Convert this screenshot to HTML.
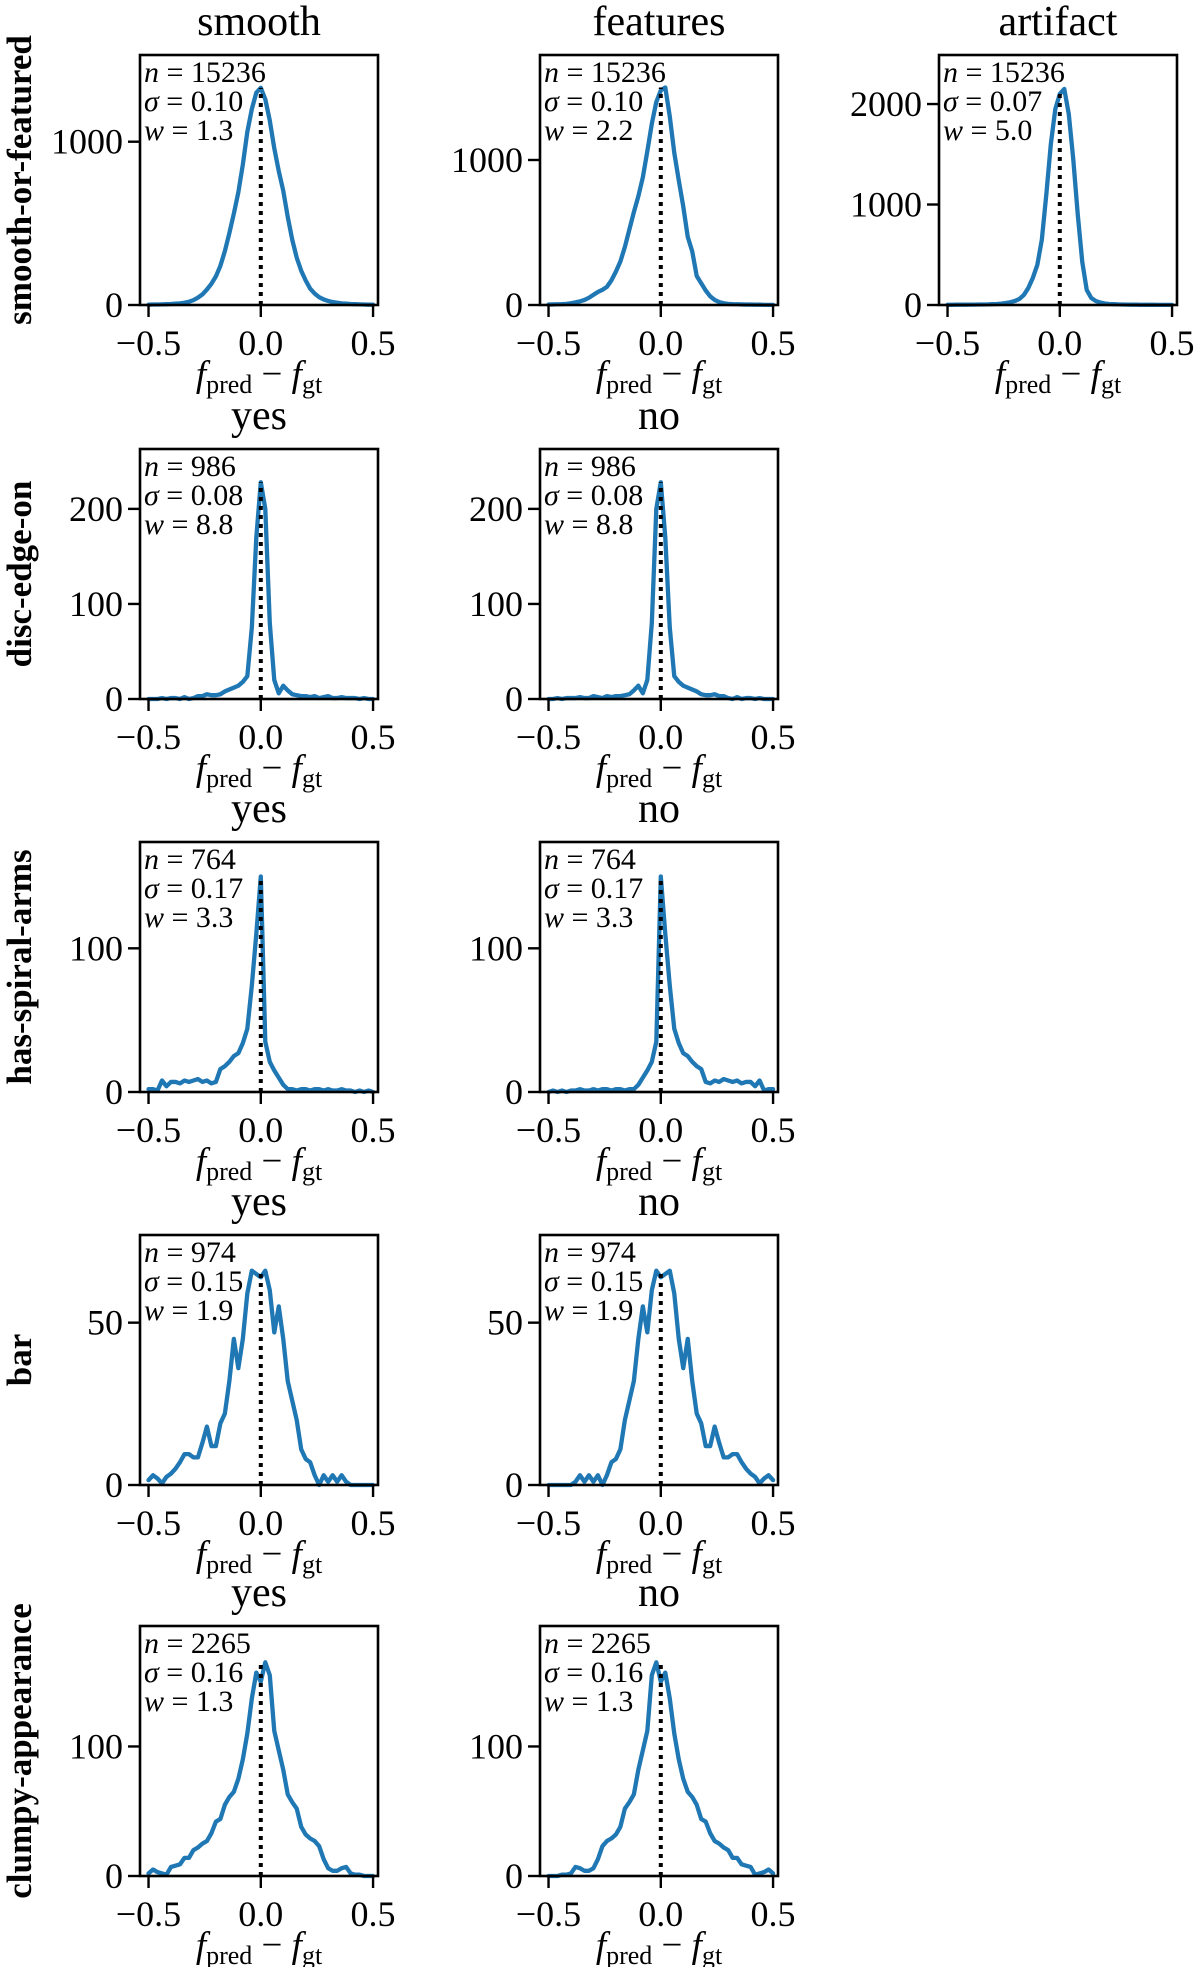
<!DOCTYPE html>
<html><head><meta charset="utf-8">
<style>
html,body{margin:0;padding:0;background:#fff;}
svg{display:block;font-family:"Liberation Serif","DejaVu Serif",serif;}
</style></head>
<body>
<svg id="fig" width="1200" height="1967" viewBox="0 0 1200 1967" xmlns="http://www.w3.org/2000/svg"></svg>
<script>
// x grid values: -0.5 .. 0.5 step 0.02
const xValues = [-0.5,-0.48,-0.46,-0.44,-0.42,-0.4,-0.38,-0.36,-0.34,-0.32,-0.3,-0.28,-0.26,-0.24,-0.22,-0.2,-0.18,-0.16,-0.14,-0.12,-0.1,-0.08,-0.06,-0.04,-0.02,0,0.02,0.04,0.06,0.08,0.1,0.12,0.14,0.16,0.18,0.2,0.22,0.24,0.26,0.28,0.3,0.32,0.34,0.36,0.38,0.4,0.42,0.44,0.46,0.48,0.5];
const xTicks = [-0.5, 0.0, 0.5];
const xTickLabels = ["\u22120.5", "0.0", "0.5"];

const smoothVals = [2,3,3,4,5,6,8,10,14,20,30,45,65,95,130,175,240,330,440,560,690,860,1060,1200,1300,1330,1260,1130,960,820,700,540,400,290,210,150,100,70,48,34,25,18,14,10,8,6,5,4,3,2,2];
const featuresVals = [3,4,5,6,8,12,18,25,35,50,70,90,105,125,170,230,300,400,520,640,750,880,1060,1250,1400,1480,1500,1300,1050,860,680,470,370,200,150,100,60,35,20,12,8,6,5,4,3,3,2,2,1,1,1];
const artifactVals = [2,2,3,3,3,4,4,5,5,6,8,10,14,20,28,40,60,100,170,270,400,650,1100,1600,1950,2100,2150,1900,1450,900,430,150,70,40,25,15,10,8,6,5,4,3,3,2,2,2,2,1,1,1,1];
const discYesVals = [0,0,0,1,0,1,1,0,2,0,1,3,3,5,4,4,5,8,10,12,14,18,24,75,170,228,200,80,20,6,14,9,5,4,3,3,2,3,1,2,3,1,1,2,1,1,1,0,1,0,0];
const discNoVals = [0,0,1,0,1,1,1,2,1,1,3,2,1,3,2,3,3,4,5,9,14,6,20,80,200,228,170,75,24,18,14,12,10,8,5,4,4,5,3,3,1,0,2,0,1,1,0,1,0,0,0];
const spiralYesVals = [2,2,1,8,4,7,7,6,8,7,8,9,7,8,6,7,16,18,21,25,27,34,44,74,110,150,35,21,15,10,5,2,2,1,2,2,1,2,2,1,2,1,1,2,1,1,0,1,0,1,0];
const spiralNoVals = [0,1,0,1,0,1,1,2,1,1,2,1,2,2,1,2,2,1,2,2,5,10,15,21,35,150,110,74,44,34,27,25,21,18,16,7,6,8,7,9,8,7,8,6,7,7,4,8,1,2,2];
const barYesVals = [1.5,3,2,0.5,2.5,3.5,5,7,9.5,9.5,8.5,8.5,13,18,12,12,19,22,32,45,36,45,59,66,65,64,66,60,47,55,45,32,26,20,11,8,7,3,0,3,1,3,1,3,1,0,0,0,0,0,0];
const barNoVals = [0,0,0,0,0,0,1,3,1,3,1,3,0,3,7,8,11,20,26,32,45,55,47,60,66,64,65,66,59,45,36,45,32,22,19,12,12,18,13,8.5,8.5,9.5,9.5,7,5,3.5,2.5,0.5,2,3,1.5];
const clumpyYesVals = [2,5,3,2,1,7,8,9,14,14,20,22,25,27,33,42,44,55,61,65,75,90,110,137,157,150,165,155,112,97,82,63,57,52,38,32,29,27,23,13,6,4,4,6,7,2,1,1,0,0,0];
const clumpyNoVals = [0,0,0,1,1,2,7,6,4,4,6,13,23,27,29,32,38,52,57,63,82,97,112,155,165,150,157,137,110,90,75,65,61,55,44,42,33,27,25,22,20,14,14,9,8,7,1,2,3,5,2];

const rowLabels = ["smooth-or-featured","disc-edge-on","has-spiral-arms","bar","clumpy-appearance"];
const colTitles = [["smooth","features","artifact"],["yes","no"],["yes","no"],["yes","no"],["yes","no"]];
const nLabels = ["15236","986","764","974","2265"];
const sigmaLabels = [["0.10","0.10","0.07"],["0.08","0.08"],["0.17","0.17"],["0.15","0.15"],["0.16","0.16"]];
const wLabels = [["1.3","2.2","5.0"],["8.8","8.8"],["3.3","3.3"],["1.9","1.9"],["1.3","1.3"]];
const yTicks = [[[0,1000],[0,1000],[0,1000,2000]],[[0,100,200],[0,100,200]],[[0,100],[0,100]],[[0,50],[0,50]],[[0,100],[0,100]]];
const yMax = [[1531,1724,2488],[263,263],[174,174],[77,77],[193,193]];
const series = [[smoothVals,featuresVals,artifactVals],[discYesVals,discNoVals],[spiralYesVals,spiralNoVals],[barYesVals,barNoVals],[clumpyYesVals,clumpyNoVals]];

const NS = "http://www.w3.org/2000/svg";
const svg = document.getElementById("fig");
const colLeft = [140, 540, 939];
const rowTop = [55, 449, 842, 1235, 1626];
const PW = 238, PH = 250;
const XMIN = -0.538, XMAX = 0.522;

function mk(tag, attrs, parent) {
  const e = document.createElementNS(NS, tag);
  for (const k in attrs) e.setAttribute(k, attrs[k]);
  (parent || svg).appendChild(e);
  return e;
}

for (let r = 0; r < 5; r++) {
  const top = rowTop[r];
  const rl = mk("text", {x: 0, y: 0, "font-size": 35, "font-weight": "bold", "text-anchor": "middle",
    transform: `translate(31 ${top + PH / 2}) rotate(-90)`});
  rl.textContent = rowLabels[r];
  
  

  for (let c = 0; c < series[r].length; c++) {
    const left = colLeft[c];
    const vals = series[r][c];
    const ym = yMax[r][c];
    const xs = v => left + (v - XMIN) / (XMAX - XMIN) * PW;
    const ys = v => top + PH - v / ym * PH;
    const g = mk("g", {});
    
    

    const t = mk("text", {x: left + PW / 2, y: top - 20, "font-size": 42, "text-anchor": "middle"}, g);
    t.textContent = colTitles[r][c];
    
    

    let d = "";
    for (let i = 0; i < vals.length; i++) d += (i ? "L" : "M") + xs(xValues[i]).toFixed(2) + " " + ys(vals[i]).toFixed(2);
    const line = mk("path", {d: d, fill: "none", stroke: "#1f77b4", "stroke-width": 4.3, "stroke-linejoin": "round", "stroke-linecap": "round"}, g);
    
    

    const vmax = Math.max(...vals);
    const zl = mk("line", {x1: xs(0), x2: xs(0), y1: ys(0), y2: ys(vmax), stroke: "#000", "stroke-width": 4, "stroke-dasharray": "4 5"}, g);
    
    

    const fr = mk("rect", {x: left, y: top, width: PW, height: PH, fill: "none", stroke: "#000", "stroke-width": 2.6}, g);
    
    

    for (let i = 0; i < xTicks.length; i++) {
      const x = xs(xTicks[i]);
      const tk = mk("line", {x1: x, x2: x, y1: top + PH, y2: top + PH + 12, stroke: "#000", "stroke-width": 2.4}, g);
      
      
      const tl = mk("text", {x: x, y: top + PH + 50, "font-size": 36, "text-anchor": "middle"}, g);
      tl.textContent = xTickLabels[i];
      
      
    }
    for (const v of yTicks[r][c]) {
      const y = ys(v);
      const tk = mk("line", {x1: left - 12, x2: left, y1: y, y2: y, stroke: "#000", "stroke-width": 2.4}, g);
      
      
      const tl = mk("text", {x: left - 17, y: y + 12, "font-size": 36, "text-anchor": "end"}, g);
      tl.textContent = String(v);
      
      
    }
    const xl = mk("text", {x: left + PW / 2, y: top + PH + 81, "font-size": 37, "text-anchor": "middle"}, g);
    xl.innerHTML = '<tspan font-style="italic">f</tspan><tspan font-size="26" dy="7">pred</tspan><tspan dy="-7"> \u2212 </tspan><tspan font-style="italic">f</tspan><tspan font-size="26" dy="7">gt</tspan>';
    
    

    const ann = [["n", nLabels[r]], ["\u03c3", sigmaLabels[r][c]], ["w", wLabels[r][c]]];
    for (let k = 0; k < 3; k++) {
      const at = mk("text", {x: left + 4, y: top + 27 + k * 29, "font-size": 30}, g);
      at.innerHTML = '<tspan font-style="italic">' + ann[k][0] + '</tspan> = ' + ann[k][1];
      
      
    }
  }
}
</script>
</body></html>
